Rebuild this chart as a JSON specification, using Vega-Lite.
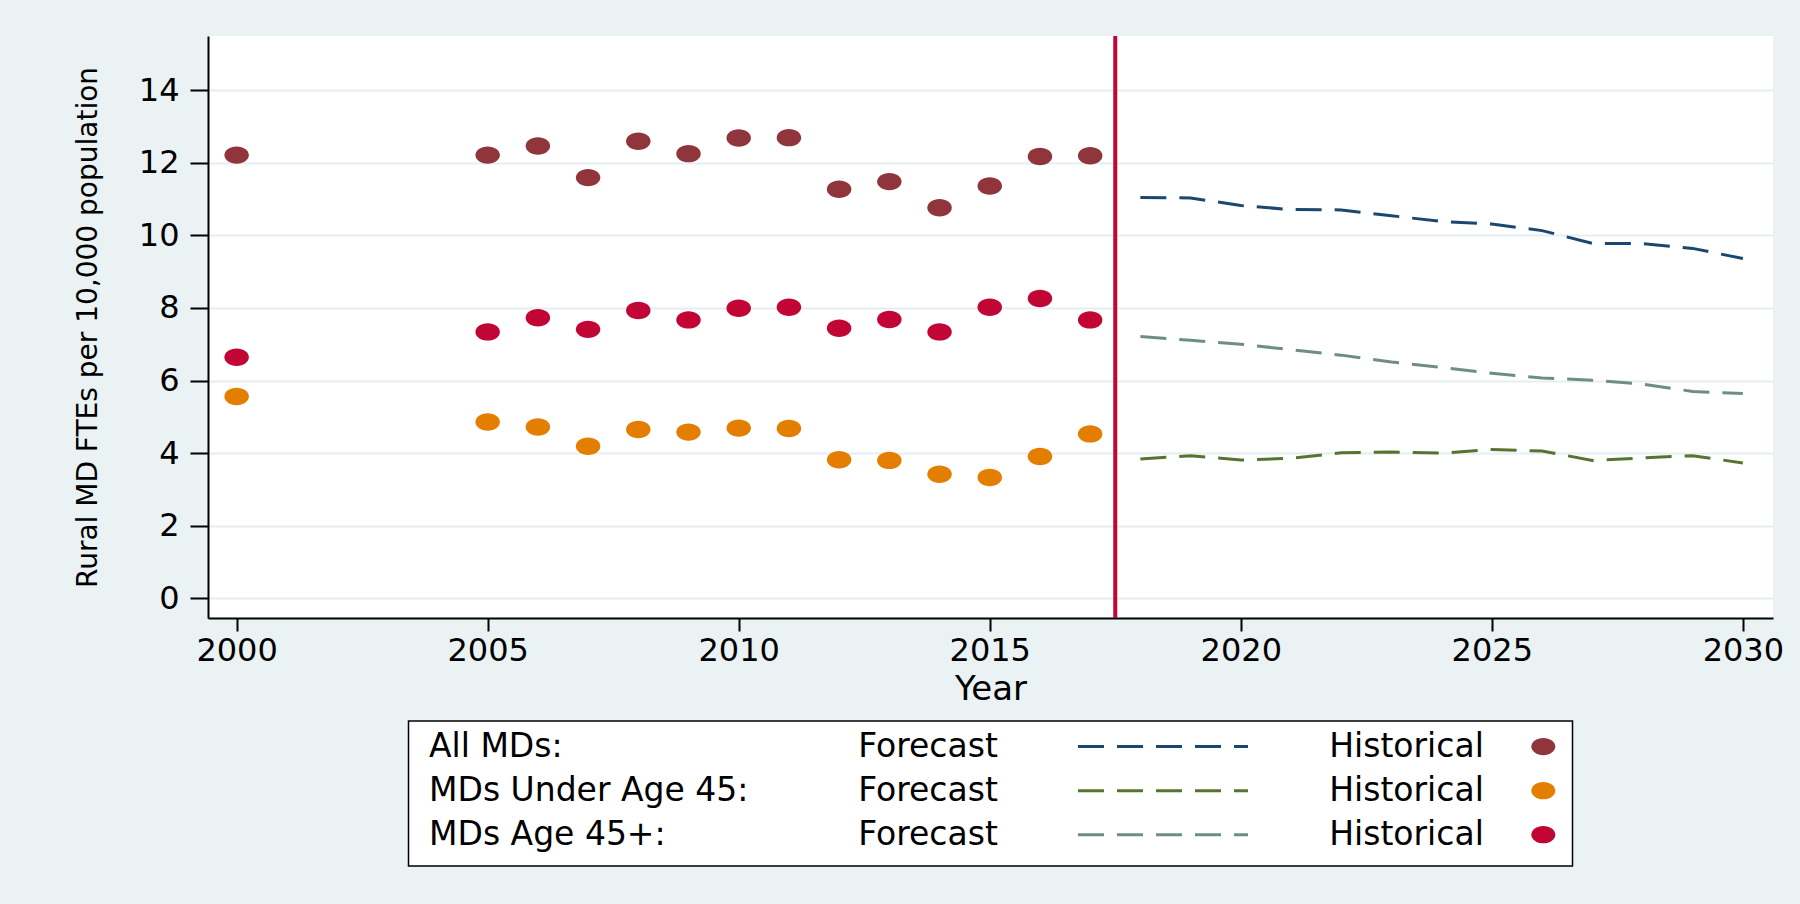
{
  "$schema": "https://vega.github.io/schema/vega-lite/v6.json",
  "background": "#eaf2f3",
  "padding": {"left": 74, "top": 34, "right": 16, "bottom": 37},
  "datasets": {
    "obs": [
      {"year": 2000, "value": 12.21, "series": "All MDs", "type": "Historical"},
      {"year": 2005, "value": 12.21, "series": "All MDs", "type": "Historical"},
      {"year": 2006, "value": 12.46, "series": "All MDs", "type": "Historical"},
      {"year": 2007, "value": 11.59, "series": "All MDs", "type": "Historical"},
      {"year": 2008, "value": 12.59, "series": "All MDs", "type": "Historical"},
      {"year": 2009, "value": 12.25, "series": "All MDs", "type": "Historical"},
      {"year": 2010, "value": 12.68, "series": "All MDs", "type": "Historical"},
      {"year": 2011, "value": 12.69, "series": "All MDs", "type": "Historical"},
      {"year": 2012, "value": 11.27, "series": "All MDs", "type": "Historical"},
      {"year": 2013, "value": 11.48, "series": "All MDs", "type": "Historical"},
      {"year": 2014, "value": 10.76, "series": "All MDs", "type": "Historical"},
      {"year": 2015, "value": 11.36, "series": "All MDs", "type": "Historical"},
      {"year": 2016, "value": 12.17, "series": "All MDs", "type": "Historical"},
      {"year": 2017, "value": 12.19, "series": "All MDs", "type": "Historical"},
      {"year": 2000, "value": 5.56, "series": "MDs Under Age 45", "type": "Historical"},
      {"year": 2005, "value": 4.86, "series": "MDs Under Age 45", "type": "Historical"},
      {"year": 2006, "value": 4.72, "series": "MDs Under Age 45", "type": "Historical"},
      {"year": 2007, "value": 4.19, "series": "MDs Under Age 45", "type": "Historical"},
      {"year": 2008, "value": 4.65, "series": "MDs Under Age 45", "type": "Historical"},
      {"year": 2009, "value": 4.58, "series": "MDs Under Age 45", "type": "Historical"},
      {"year": 2010, "value": 4.69, "series": "MDs Under Age 45", "type": "Historical"},
      {"year": 2011, "value": 4.68, "series": "MDs Under Age 45", "type": "Historical"},
      {"year": 2012, "value": 3.82, "series": "MDs Under Age 45", "type": "Historical"},
      {"year": 2013, "value": 3.80, "series": "MDs Under Age 45", "type": "Historical"},
      {"year": 2014, "value": 3.42, "series": "MDs Under Age 45", "type": "Historical"},
      {"year": 2015, "value": 3.33, "series": "MDs Under Age 45", "type": "Historical"},
      {"year": 2016, "value": 3.91, "series": "MDs Under Age 45", "type": "Historical"},
      {"year": 2017, "value": 4.53, "series": "MDs Under Age 45", "type": "Historical"},
      {"year": 2000, "value": 6.64, "series": "MDs Age 45+", "type": "Historical"},
      {"year": 2005, "value": 7.34, "series": "MDs Age 45+", "type": "Historical"},
      {"year": 2006, "value": 7.73, "series": "MDs Age 45+", "type": "Historical"},
      {"year": 2007, "value": 7.41, "series": "MDs Age 45+", "type": "Historical"},
      {"year": 2008, "value": 7.93, "series": "MDs Age 45+", "type": "Historical"},
      {"year": 2009, "value": 7.67, "series": "MDs Age 45+", "type": "Historical"},
      {"year": 2010, "value": 7.99, "series": "MDs Age 45+", "type": "Historical"},
      {"year": 2011, "value": 8.02, "series": "MDs Age 45+", "type": "Historical"},
      {"year": 2012, "value": 7.44, "series": "MDs Age 45+", "type": "Historical"},
      {"year": 2013, "value": 7.68, "series": "MDs Age 45+", "type": "Historical"},
      {"year": 2014, "value": 7.34, "series": "MDs Age 45+", "type": "Historical"},
      {"year": 2015, "value": 8.02, "series": "MDs Age 45+", "type": "Historical"},
      {"year": 2016, "value": 8.26, "series": "MDs Age 45+", "type": "Historical"},
      {"year": 2017, "value": 7.67, "series": "MDs Age 45+", "type": "Historical"},
      {"year": 2018, "value": 11.04, "series": "All MDs", "type": "Forecast"},
      {"year": 2019, "value": 11.03, "series": "All MDs", "type": "Forecast"},
      {"year": 2020, "value": 10.82, "series": "All MDs", "type": "Forecast"},
      {"year": 2021, "value": 10.71, "series": "All MDs", "type": "Forecast"},
      {"year": 2022, "value": 10.70, "series": "All MDs", "type": "Forecast"},
      {"year": 2023, "value": 10.54, "series": "All MDs", "type": "Forecast"},
      {"year": 2024, "value": 10.38, "series": "All MDs", "type": "Forecast"},
      {"year": 2025, "value": 10.31, "series": "All MDs", "type": "Forecast"},
      {"year": 2026, "value": 10.13, "series": "All MDs", "type": "Forecast"},
      {"year": 2027, "value": 9.78, "series": "All MDs", "type": "Forecast"},
      {"year": 2028, "value": 9.77, "series": "All MDs", "type": "Forecast"},
      {"year": 2029, "value": 9.64, "series": "All MDs", "type": "Forecast"},
      {"year": 2030, "value": 9.36, "series": "All MDs", "type": "Forecast"},
      {"year": 2018, "value": 3.84, "series": "MDs Under Age 45", "type": "Forecast"},
      {"year": 2019, "value": 3.93, "series": "MDs Under Age 45", "type": "Forecast"},
      {"year": 2020, "value": 3.81, "series": "MDs Under Age 45", "type": "Forecast"},
      {"year": 2021, "value": 3.86, "series": "MDs Under Age 45", "type": "Forecast"},
      {"year": 2022, "value": 4.01, "series": "MDs Under Age 45", "type": "Forecast"},
      {"year": 2023, "value": 4.03, "series": "MDs Under Age 45", "type": "Forecast"},
      {"year": 2024, "value": 4.00, "series": "MDs Under Age 45", "type": "Forecast"},
      {"year": 2025, "value": 4.10, "series": "MDs Under Age 45", "type": "Forecast"},
      {"year": 2026, "value": 4.06, "series": "MDs Under Age 45", "type": "Forecast"},
      {"year": 2027, "value": 3.80, "series": "MDs Under Age 45", "type": "Forecast"},
      {"year": 2028, "value": 3.87, "series": "MDs Under Age 45", "type": "Forecast"},
      {"year": 2029, "value": 3.93, "series": "MDs Under Age 45", "type": "Forecast"},
      {"year": 2030, "value": 3.73, "series": "MDs Under Age 45", "type": "Forecast"},
      {"year": 2018, "value": 7.21, "series": "MDs Age 45+", "type": "Forecast"},
      {"year": 2019, "value": 7.11, "series": "MDs Age 45+", "type": "Forecast"},
      {"year": 2020, "value": 7.00, "series": "MDs Age 45+", "type": "Forecast"},
      {"year": 2021, "value": 6.85, "series": "MDs Age 45+", "type": "Forecast"},
      {"year": 2022, "value": 6.70, "series": "MDs Age 45+", "type": "Forecast"},
      {"year": 2023, "value": 6.51, "series": "MDs Age 45+", "type": "Forecast"},
      {"year": 2024, "value": 6.36, "series": "MDs Age 45+", "type": "Forecast"},
      {"year": 2025, "value": 6.20, "series": "MDs Age 45+", "type": "Forecast"},
      {"year": 2026, "value": 6.07, "series": "MDs Age 45+", "type": "Forecast"},
      {"year": 2027, "value": 6.01, "series": "MDs Age 45+", "type": "Forecast"},
      {"year": 2028, "value": 5.90, "series": "MDs Age 45+", "type": "Forecast"},
      {"year": 2029, "value": 5.70, "series": "MDs Age 45+", "type": "Forecast"},
      {"year": 2030, "value": 5.64, "series": "MDs Age 45+", "type": "Forecast"}
    ],
    "legendRows": [
      {"row": "All MDs:", "series": "All MDs"},
      {"row": "MDs Under Age 45:", "series": "MDs Under Age 45"},
      {"row": "MDs Age 45+:", "series": "MDs Age 45+"}
    ],
    "cutoff": [{"boundary": 2017.5}]
  },
  "vconcat": [
    {
      "width": 1565,
      "height": 582,
      "layer": [
        {
          "data": {"name": "obs"},
          "transform": [{"filter": "datum.type === 'Forecast'"}],
          "mark": {"type": "line", "strokeWidth": 3, "strokeDash": [26, 13]},
          "encoding": {
            "x": {
              "field": "year", "type": "quantitative",
              "scale": {"domain": [1999.43, 2030.6], "nice": false, "zero": false},
              "axis": {
                "values": [2000, 2005, 2010, 2015, 2020, 2025, 2030], "format": "d",
                "title": "Year", "grid": false, "tickSize": 13, "labelPadding": 4,
                "labelFontSize": 32, "titleFontSize": 34, "titlePadding": 6,
                "labelFlush": false, "labelOverlap": false
              }
            },
            "y": {
              "field": "value", "type": "quantitative",
              "scale": {"domain": [-0.54, 15.49], "nice": false, "zero": false},
              "axis": {
                "values": [0, 2, 4, 6, 8, 10, 12, 14],
                "title": "Rural MD FTEs per 10,000 population",
                "tickSize": 18, "labelPadding": 11, "labelFontSize": 32,
                "titleFontSize": 28, "titlePadding": 36, "grid": true
              }
            },
            "color": {
              "field": "series", "type": "nominal",
              "scale": {"domain": ["All MDs", "MDs Under Age 45", "MDs Age 45+"], "range": ["#1a476f", "#55752f", "#6e8e84"]},
              "legend": null
            },
            "detail": {"field": "series"}
          }
        },
        {
          "data": {"name": "obs"},
          "transform": [{"filter": "datum.type === 'Historical'"}],
          "mark": {"type": "point", "filled": true, "opacity": 1, "size": 600, "shape": "M-1,0A1,0.71,0,1,0,1,0A1,0.71,0,1,0,-1,0Z"},
          "encoding": {
            "x": {"field": "year", "type": "quantitative"},
            "y": {"field": "value", "type": "quantitative"},
            "color": {
              "field": "series", "type": "nominal",
              "scale": {"domain": ["All MDs", "MDs Under Age 45", "MDs Age 45+"], "range": ["#90353b", "#e37e00", "#c10534"]},
              "legend": null
            }
          }
        },
        {
          "data": {"name": "cutoff"},
          "mark": {"type": "rule", "color": "#c10534", "strokeWidth": 4},
          "encoding": {"x": {"field": "boundary", "type": "quantitative"}}
        }
      ],
      "resolve": {"scale": {"color": "independent"}}
    },
    {
      "width": 1164,
      "height": 145,
      "data": {"name": "legendRows"},
      "view": {"fill": "white", "stroke": "black", "strokeWidth": 1.5},
      "encoding": {
        "y": {
          "field": "row", "type": "nominal",
          "scale": {"type": "point", "domain": ["All MDs:", "MDs Under Age 45:", "MDs Age 45+:"], "padding": 0.645, "align": 0.45},
          "axis": null
        }
      },
      "layer": [
        {
          "mark": {"type": "text", "align": "left", "baseline": "middle", "fontSize": 33, "color": "black"},
          "encoding": {
            "x": {"datum": 20.5, "type": "quantitative", "scale": {"domain": [0, 1164], "nice": false, "zero": false}, "axis": null},
            "text": {"field": "row"}
          }
        },
        {
          "mark": {"type": "text", "align": "center", "baseline": "middle", "fontSize": 33, "color": "black"},
          "encoding": {
            "x": {"datum": 519.5, "type": "quantitative"},
            "text": {"value": "Forecast"}
          }
        },
        {
          "mark": {"type": "rule", "strokeWidth": 3, "strokeDash": [26, 13]},
          "encoding": {
            "x": {"datum": 669.5, "type": "quantitative"},
            "x2": {"datum": 839.5},
            "color": {
              "field": "series", "type": "nominal",
              "scale": {"domain": ["All MDs", "MDs Under Age 45", "MDs Age 45+"], "range": ["#1a476f", "#55752f", "#6e8e84"]},
              "legend": null
            }
          }
        },
        {
          "mark": {"type": "text", "align": "center", "baseline": "middle", "fontSize": 33, "color": "black"},
          "encoding": {
            "x": {"datum": 998, "type": "quantitative"},
            "text": {"value": "Historical"}
          }
        },
        {
          "mark": {"type": "point", "filled": true, "opacity": 1, "size": 576, "shape": "M-1,0A1,0.72,0,1,0,1,0A1,0.72,0,1,0,-1,0Z"},
          "encoding": {
            "x": {"datum": 1134.8, "type": "quantitative"},
            "color": {
              "field": "series", "type": "nominal",
              "scale": {"domain": ["All MDs", "MDs Under Age 45", "MDs Age 45+"], "range": ["#90353b", "#e37e00", "#c10534"]},
              "legend": null
            }
          }
        }
      ],
      "resolve": {"scale": {"color": "independent"}}
    }
  ],
  "spacing": 103,
  "center": true,
  "bounds": "flush",
  "config": {
    "font": "DejaVu Sans",
    "view": {"fill": "white", "stroke": null},
    "axis": {
      "domainColor": "black", "domainWidth": 2, "tickColor": "black", "tickWidth": 2,
      "labelColor": "black", "titleColor": "black", "titleFontWeight": "normal",
      "labelFont": "DejaVu Sans", "titleFont": "DejaVu Sans",
      "gridColor": "#e6eef1", "gridWidth": 2
    },
    "text": {"font": "DejaVu Sans"}
  }
}
